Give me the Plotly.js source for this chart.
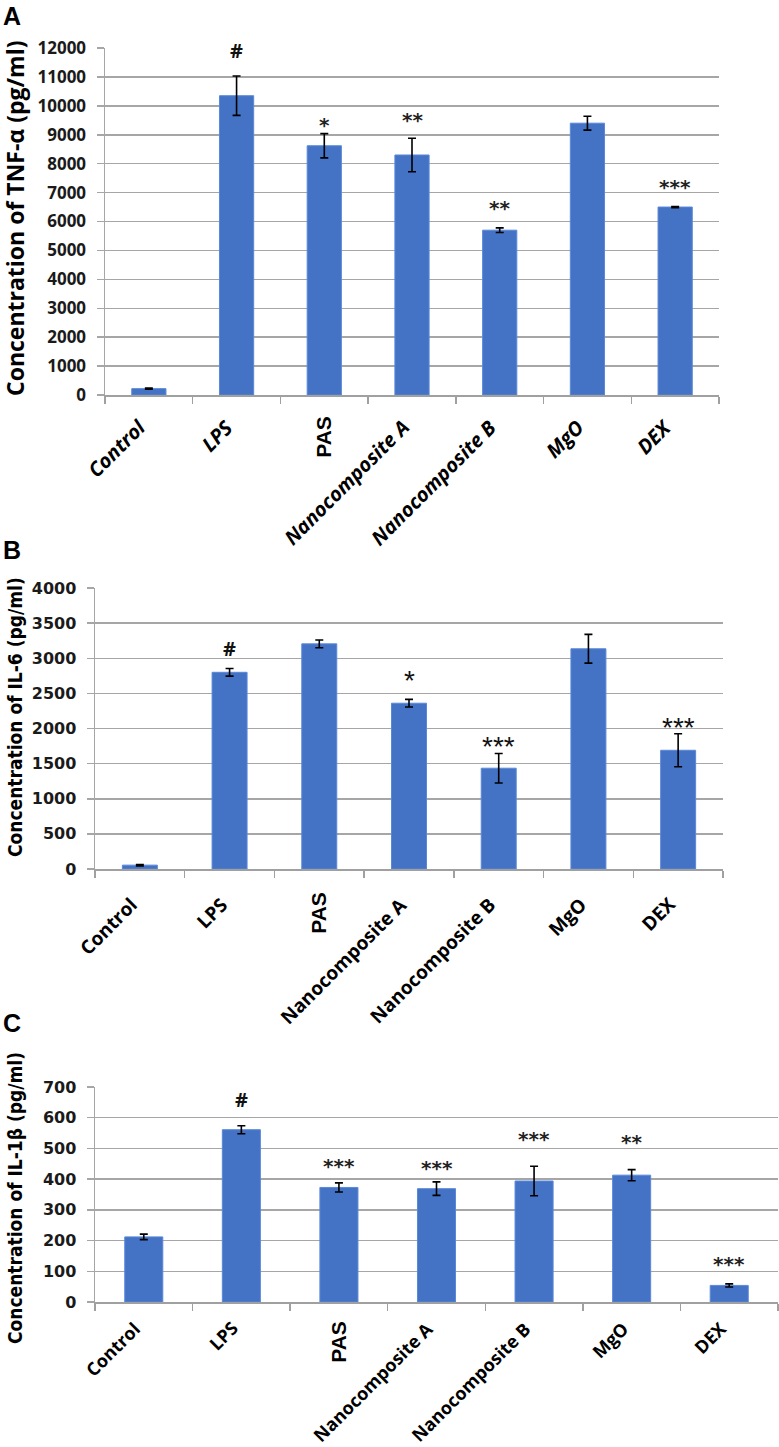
<!DOCTYPE html>
<html>
<head>
<meta charset="utf-8">
<script src="https://cdn.plot.ly/plotly-3.0.1.min.js"></script>
<style>html,body{margin:0;padding:0;background:#fff;}#chart{width:779px;height:1447px;}</style>
</head>
<body>
<div id="chart"></div>
<script>
// ---- data ----
const categories = ['Control', 'LPS', 'PAS', 'Nanocomposite A', 'Nanocomposite B', 'MgO', 'DEX'];
const verticalLabel = 'PAS';

const tnfValues = [220, 10350, 8620, 8300, 5700, 9400, 6500];
const tnfErrors = [20, 680, 420, 580, 80, 240, 20];
const tnfMarks = ['', '#', '*', '**', '**', '', '***'];
const tnfMarkY = [null, 11930, 9545, 9707, 6685, null, 7400];

const il6Values = [55, 2800, 3205, 2360, 1435, 3135, 1690];
const il6Errors = [10, 55, 55, 55, 210, 205, 235];
const il6Marks = ['', '#', '', '*', '***', '', '***'];
const il6MarkY = [null, 3133, null, 2795, 1857, null, 2133];

const il1bValues = [212, 561, 373, 369, 394, 413, 54];
const il1bErrors = [9, 13, 15, 22, 48, 18, 5];
const il1bMarks = ['', '#', '***', '***', '***', '**', '***'];
const il1bMarkY = [null, 659, 462, 455, 550, 542, 144];

const yTitles = ['Concentration of TNF-α (pg/ml)', 'Concentration of IL-6 (pg/ml)', 'Concentration of IL-1β (pg/ml)'];
const panelLetters = ['A', 'B', 'C'];
const yMax = [12000, 4000, 700];
const yStep = [1000, 500, 100];

// ---- layout helpers ----
const W = 779, H = 1447;
const fx = p => p / W;
const fy = p => 1 - p / H;

const panels = [
  {x0: 105, x1: 719, y0: 48, y1: 395, letterY: 0, titleY: 219, tickFont: {family: 'Open Sans', size: 17, weight: 700, color: '#1a1a1a'},
   titleFont: {family: 'Open Sans', size: 23, weight: 700, color: '#000'}, italic: true, lblSize: 20, lblDy: 16, lblDx: 5, pasGap: 16,
   starFont: {family: 'DejaVu Sans', size: 20, weight: 700, color: '#222'}, starShift: -6},
  {x0: 95, x1: 723, y0: 588, y1: 869, letterY: 534, titleY: 717, tickFont: {family: 'DejaVu Sans', size: 16, weight: 700, color: '#1a1a1a'},
   titleFont: {family: 'DejaVu Sans Condensed, Open Sans', size: 19, weight: 700, color: '#000'}, italic: false, lblSize: 19, lblDy: 20, lblDx: 6, pasGap: 18,
   starFont: {family: 'Liberation Sans', size: 28, weight: 400, color: '#111'}, starShift: -8},
  {x0: 95, x1: 778, y0: 1087, y1: 1302, letterY: 1007, titleY: 1198, tickFont: {family: 'DejaVu Sans', size: 16, weight: 700, color: '#1a1a1a'},
   titleFont: {family: 'DejaVu Sans Condensed, Open Sans', size: 19, weight: 700, color: '#000'}, italic: false, lblSize: 18, lblDy: 12, lblDx: 4, pasGap: 14,
   starFont: {family: 'DejaVu Sans', size: 20, weight: 700, color: '#222'}, starShift: -6}
];

const seriesValues = [tnfValues, il6Values, il1bValues];
const seriesErrors = [tnfErrors, il6Errors, il1bErrors];
const seriesMarks = [tnfMarks, il6Marks, il1bMarks];
const seriesMarkY = [tnfMarkY, il6MarkY, il1bMarkY];

const traces = [];
const layout = {
  width: W, height: H,
  margin: {l: 0, r: 0, t: 0, b: 0},
  paper_bgcolor: '#fff', plot_bgcolor: '#fff',
  showlegend: false,
  bargap: 0.6,
  annotations: []
};

panels.forEach((p, i) => {
  const n = i === 0 ? '' : String(i + 1);
  const ov = String(i + 4); // overlay axis carrying the vertical label
  traces.push({
    type: 'bar',
    x: categories,
    y: seriesValues[i],
    xaxis: 'x' + n, yaxis: 'y' + n,
    width: 0.39,
    marker: {color: '#4472C4', line: {color: '#5a88d8', width: 1}},
    error_y: {type: 'data', array: seriesErrors[i], visible: true, color: '#000', thickness: 1.6, width: 4},
    hoverinfo: 'skip'
  });
  // invisible helper so the overlay label axis is drawn
  traces.push({
    type: 'scatter', mode: 'markers',
    x: [categories.indexOf(verticalLabel)], y: [0],
    xaxis: 'x' + ov, yaxis: 'y' + n,
    marker: {size: 1, opacity: 0}, hoverinfo: 'skip', showlegend: false
  });

  layout['xaxis' + n] = {
    domain: [fx(p.x0), fx(p.x1)],
    anchor: 'y' + n,
    type: 'category',
    range: [-0.5, categories.length - 0.5],
    showticklabels: false,
    ticks: 'outside', tickson: 'boundaries', ticklen: 7, tickwidth: 1.5, tickcolor: '#a0a0a0',
    showline: true, linecolor: '#a0a0a0', linewidth: 1.5,
    showgrid: false, zeroline: false, fixedrange: true
  };
  layout['xaxis' + ov] = {
    overlaying: 'x' + n,
    anchor: 'y' + n,
    side: 'bottom',
    type: 'linear',
    range: [-0.5, categories.length - 0.5],
    tickmode: 'array',
    tickvals: [categories.indexOf(verticalLabel)],
    ticktext: [verticalLabel],
    tickangle: -90,
    ticks: '', ticklabelstandoff: p.pasGap,
    tickfont: {family: 'Liberation Sans', size: 21, weight: 700, color: '#000'},
    showline: false, showgrid: false, zeroline: false, fixedrange: true
  };
  layout['yaxis' + n] = {
    domain: [fy(p.y1), fy(p.y0)],
    anchor: 'x' + n,
    range: [0, yMax[i]],
    dtick: yStep[i], tick0: 0,
    tickformat: 'd',
    showgrid: true, gridcolor: '#a6a6a6', gridwidth: 1.5,
    showline: true, linecolor: '#a6a6a6', linewidth: 1.5,
    ticks: 'outside', ticklen: 7, tickwidth: 1.5, tickcolor: '#a6a6a6',
    ticklabelstandoff: 7,
    tickfont: p.tickFont,
    zeroline: false, fixedrange: true
  };

  // panel letter
  layout.annotations.push({
    text: panelLetters[i], xref: 'paper', yref: 'paper', x: fx(1), y: fy(p.letterY),
    xanchor: 'left', yanchor: 'top', showarrow: false,
    font: {family: 'Liberation Sans', size: 25, weight: 700, color: '#000'}
  });
  // y title
  layout.annotations.push({
    text: yTitles[i], xref: 'paper', yref: 'paper', x: fx(15), y: fy(p.titleY),
    xanchor: 'center', yanchor: 'middle', textangle: -90, showarrow: false,
    font: p.titleFont
  });
  // slanted category labels
  categories.forEach((c, k) => {
    if (c === verticalLabel) return;
    layout.annotations.push({
      text: p.italic ? '<i>' + c + '</i>' : c, xref: 'x' + n, yref: 'paper', x: c, y: fy(p.y1 + p.lblDy),
      xanchor: 'right', yanchor: 'top', textangle: -45, xshift: p.lblDx, showarrow: false,
      font: {family: 'Open Sans', size: p.lblSize, weight: 700, color: '#000'}
    });
  });
  // significance marks
  seriesMarks[i].forEach((m, k) => {
    if (!m) return;
    const isHash = m === '#';
    layout.annotations.push({
      text: m, xref: 'x' + n, yref: 'y' + n, x: categories[k], y: seriesMarkY[i][k],
      xanchor: 'center', yanchor: 'middle', showarrow: false,
      yshift: isHash ? 0 : p.starShift,
      font: isHash ? {family: 'Open Sans', size: 20, weight: 700, color: '#111'} : p.starFont
    });
  });
});

Plotly.newPlot('chart', traces, layout, {staticPlot: true, displayModeBar: false});
</script>
</body>
</html>
